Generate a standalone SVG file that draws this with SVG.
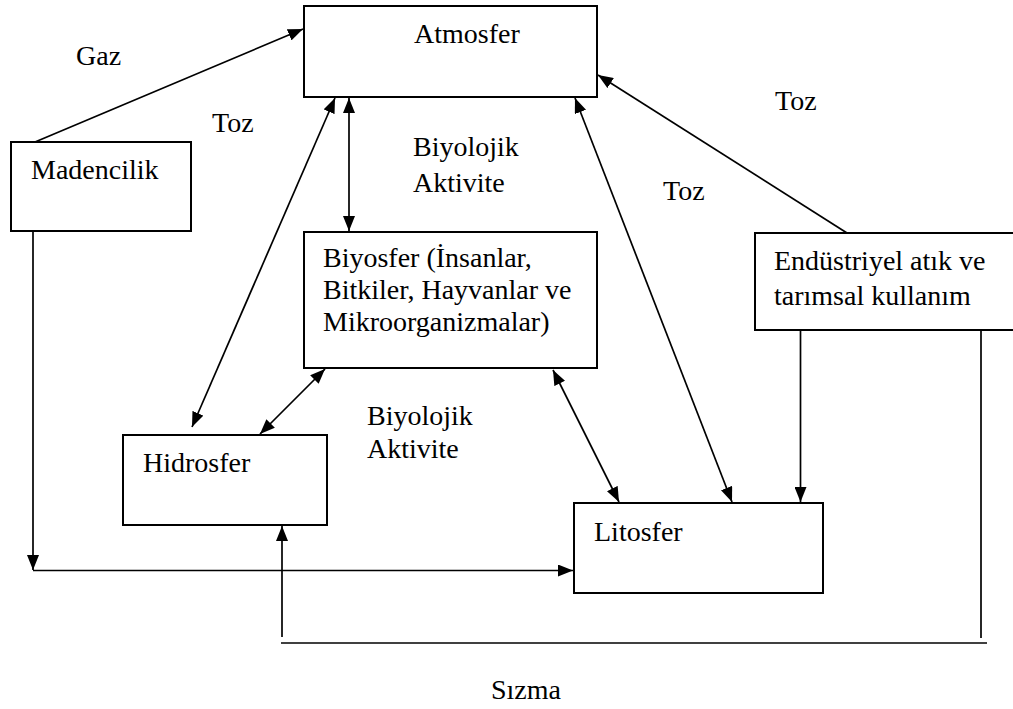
<svg xmlns="http://www.w3.org/2000/svg" width="1013" height="709" viewBox="0 0 1013 709">
<style>
.box{fill:#fff;stroke:#000;stroke-width:2}
.c line{stroke:#000;stroke-width:1.7;fill:none}
</style>
<defs>
<marker id="ah" markerUnits="userSpaceOnUse" markerWidth="15" markerHeight="12" refX="15" refY="6" orient="auto-start-reverse">
<path d="M0,0 L15,6 L0,12 z" fill="#000"/>
</marker>
</defs>
<rect width="1013" height="709" fill="#fff"/>
<g class="c" id="connectors">
<line x1="35" y1="142" x2="303" y2="29" marker-end="url(#ah)"/>
<line x1="192" y1="427" x2="335" y2="98" marker-start="url(#ah)" marker-end="url(#ah)"/>
<line x1="349" y1="98" x2="349" y2="231" marker-start="url(#ah)" marker-end="url(#ah)"/>
<line x1="575" y1="98" x2="732" y2="502" marker-start="url(#ah)" marker-end="url(#ah)"/>
<line x1="847" y1="233" x2="598" y2="75" marker-end="url(#ah)"/>
<line x1="325" y1="369" x2="260" y2="434" marker-start="url(#ah)" marker-end="url(#ah)"/>
<line x1="553" y1="370" x2="619" y2="502" marker-start="url(#ah)" marker-end="url(#ah)"/>
<line x1="33" y1="232" x2="33" y2="570" marker-end="url(#ah)"/>
<line x1="33" y1="570.5" x2="573" y2="570.5" marker-end="url(#ah)"/>
<line x1="800.5" y1="323" x2="800.5" y2="502" marker-end="url(#ah)"/>
<line x1="981" y1="322" x2="981" y2="638"/>
<line x1="281" y1="643" x2="987" y2="643"/>
<line x1="282" y1="637" x2="282" y2="526" marker-end="url(#ah)"/>
</g>
<g font-family="Liberation Serif, Times New Roman, serif" font-size="28" fill="#000">
<g id="atmosfer"><rect class="box" x="304" y="6" width="293" height="91"/><text x="414" y="43">Atmosfer</text></g>
<g id="madencilik"><rect class="box" x="11" y="142" width="180" height="89"/><text x="31" y="179">Madencilik</text></g>
<g id="biyosfer"><rect class="box" x="304" y="232" width="293" height="136"/><text x="323" y="267">Biyosfer (İnsanlar,</text><text x="323" y="299">Bitkiler, Hayvanlar ve</text><text x="323" y="331">Mikroorganizmalar)</text></g>
<g id="hidrosfer"><rect class="box" x="123" y="435" width="204" height="90"/><text x="143" y="472">Hidrosfer</text></g>
<g id="litosfer"><rect class="box" x="574" y="503" width="249" height="90"/><text x="594" y="541">Litosfer</text></g>
<g id="endustriyel"><rect class="box" x="755" y="233" width="270" height="97"/><text x="774" y="270">Endüstriyel atık ve</text><text x="774" y="305">tarımsal kullanım</text></g>
<g id="labels">
<text x="76" y="65">Gaz</text>
<text x="212" y="132">Toz</text>
<text x="413" y="156">Biyolojik</text>
<text x="413" y="192">Aktivite</text>
<text x="775" y="110">Toz</text>
<text x="663" y="200">Toz</text>
<text x="367" y="425">Biyolojik</text>
<text x="367" y="458">Aktivite</text>
<text x="491" y="699">Sızma</text>
</g>
</g>
</svg>
